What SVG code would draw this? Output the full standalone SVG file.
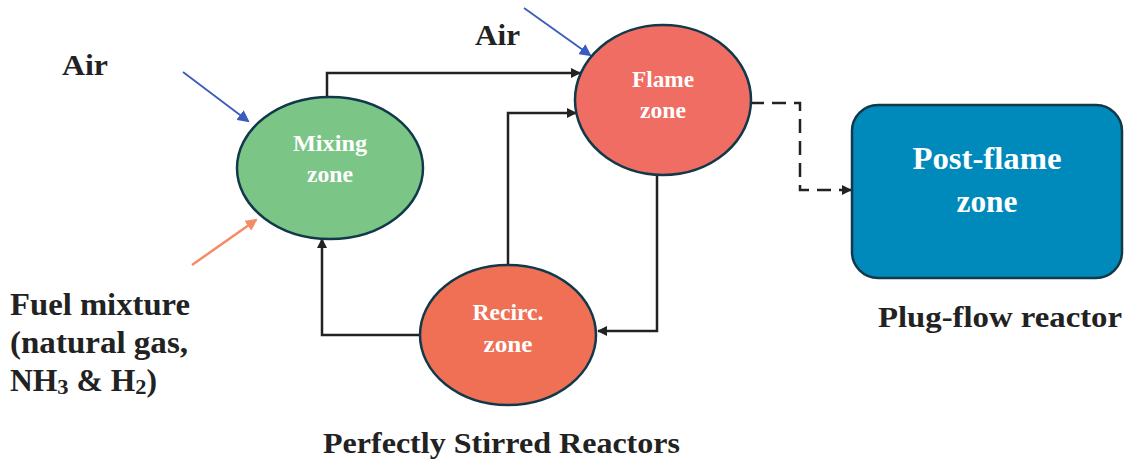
<svg xmlns="http://www.w3.org/2000/svg" width="1129" height="463" viewBox="0 0 1129 463">
<style>
.lbl{font-family:"Liberation Serif",serif;font-weight:bold;fill:#222}
.nt{font-family:"Liberation Serif",serif;font-weight:bold;fill:#fff;text-anchor:middle}
.node{stroke:#12394a;stroke-width:2.5}
.conn{fill:none;stroke:#222;stroke-width:2.5}
</style>
<defs>
<marker id="ah" markerWidth="10" markerHeight="10" refX="9" refY="5" orient="auto" markerUnits="userSpaceOnUse" viewBox="0 0 10 10"><path d="M0,0 L10,5 L0,10 z" fill="#222"/></marker>
<marker id="ahb" markerWidth="12" markerHeight="12" refX="10" refY="6" orient="auto" markerUnits="userSpaceOnUse" viewBox="0 0 12 12"><path d="M0,0 L12,6 L0,12 z" fill="#3a5bbf"/></marker>
<marker id="aho" markerWidth="12" markerHeight="12" refX="10" refY="6" orient="auto" markerUnits="userSpaceOnUse" viewBox="0 0 12 12"><path d="M0,0 L12,6 L0,12 z" fill="#f48c68"/></marker>
</defs>
<rect width="1129" height="463" fill="#fff"/>
<g id="connectors">
<path class="conn" d="M327,97 V73 H580" marker-end="url(#ah)"/>
<path class="conn" d="M508,265 V113 H576" marker-end="url(#ah)"/>
<path class="conn" d="M657,175 V331 H598" marker-end="url(#ah)"/>
<path class="conn" d="M420,335 H322 V239" marker-end="url(#ah)"/>
<path class="conn" d="M750,103 H800 V190 H851" stroke-dasharray="14,8" marker-end="url(#ah)"/>
<line x1="183" y1="72" x2="248" y2="121" stroke="#3a5bbf" stroke-width="1.8" marker-end="url(#ahb)"/>
<line x1="524" y1="8" x2="590" y2="55" stroke="#3a5bbf" stroke-width="1.8" marker-end="url(#ahb)"/>
<line x1="192" y1="265" x2="256" y2="220" stroke="#f48c68" stroke-width="2.5" marker-end="url(#aho)"/>
</g>
<g id="mixing">
<ellipse class="node" cx="330" cy="168" rx="93" ry="71" fill="#7bc587"/>
<text class="nt" x="330" y="151" font-size="24" textLength="74" lengthAdjust="spacingAndGlyphs">Mixing</text>
<text class="nt" x="330" y="182" font-size="24" textLength="46" lengthAdjust="spacingAndGlyphs">zone</text>
</g>
<g id="flame">
<ellipse class="node" cx="663" cy="100" rx="88" ry="75" fill="#ef6d62"/>
<text class="nt" x="663" y="87" font-size="24" textLength="62" lengthAdjust="spacingAndGlyphs">Flame</text>
<text class="nt" x="663" y="118" font-size="24" textLength="46" lengthAdjust="spacingAndGlyphs">zone</text>
</g>
<g id="recirc">
<ellipse class="node" cx="508" cy="335" rx="88" ry="70" fill="#f07055"/>
<text class="nt" x="508" y="320" font-size="24" textLength="71" lengthAdjust="spacingAndGlyphs">Recirc.</text>
<text class="nt" x="508" y="352" font-size="24" textLength="49" lengthAdjust="spacingAndGlyphs">zone</text>
</g>
<g id="postflame">
<rect class="node" x="852" y="105" width="270" height="173" rx="26" fill="#008abb"/>
<text class="nt" x="987" y="169" font-size="31" textLength="149" lengthAdjust="spacingAndGlyphs">Post-flame</text>
<text class="nt" x="987" y="212" font-size="31" textLength="61" lengthAdjust="spacingAndGlyphs">zone</text>
</g>
<g id="labels">
<text class="lbl" x="62" y="75" font-size="29" textLength="46" lengthAdjust="spacingAndGlyphs">Air</text>
<text class="lbl" x="475" y="45" font-size="29" textLength="45" lengthAdjust="spacingAndGlyphs">Air</text>
<text class="lbl" x="10" y="315" font-size="31" textLength="180" lengthAdjust="spacingAndGlyphs">Fuel mixture</text>
<text class="lbl" x="10" y="353" font-size="31" textLength="178" lengthAdjust="spacingAndGlyphs">(natural gas,</text>
<text class="lbl" x="10" y="391" font-size="31" textLength="147" lengthAdjust="spacingAndGlyphs">NH<tspan font-size="22" dy="3">3</tspan><tspan dy="-3"> &amp; H</tspan><tspan font-size="22" dy="3">2</tspan><tspan dy="-3">)</tspan></text>
<text class="lbl" x="878" y="327" font-size="30" textLength="244" lengthAdjust="spacingAndGlyphs">Plug-flow reactor</text>
<text class="lbl" x="323" y="453" font-size="29" textLength="357" lengthAdjust="spacingAndGlyphs">Perfectly Stirred Reactors</text>
</g>
</svg>
